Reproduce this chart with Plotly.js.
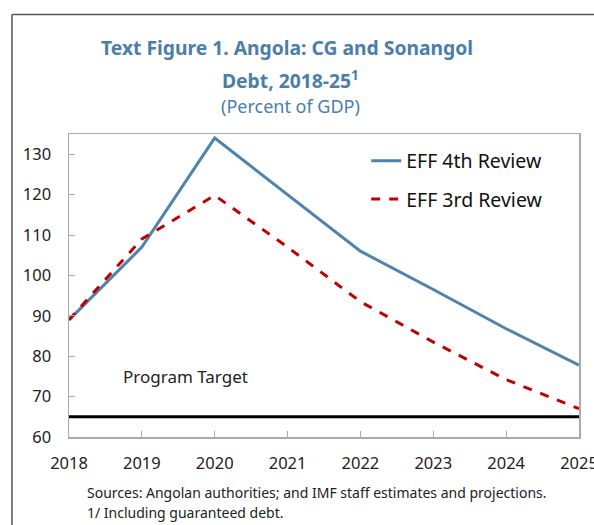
<!DOCTYPE html>
<html>
<head>
<meta charset="utf-8">
<script src="https://cdn.plot.ly/plotly-3.0.1.min.js"></script>
<style>html,body{margin:0;padding:0;background:#fff;}#chart{width:594px;height:525px;}</style>
</head>
<body>
<div id="chart"></div>
<script>
const years = [2018, 2019, 2020, 2021, 2022, 2023, 2024, 2025];
const eff4th = [89, 107, 134, 120, 106, 96.5, 86.8, 77.8];
const eff3rd = [89, 109, 119.8, 107, 93.5, 83.5, 74.2, 67];
const programTarget = 65;
const seriesNames = ['EFF 4th Review', 'EFF 3rd Review'];
const yTicks = [60, 70, 80, 90, 100, 110, 120, 130];

const FONT = 'Noto Sans, Open Sans, sans-serif';
const traces = [
  {x: years, y: eff4th, name: seriesNames[0], type: 'scatter', mode: 'lines',
   line: {color: '#4f83ad', width: 3}, legendgroup: 'a'},
  {x: years, y: eff3rd, name: seriesNames[1], type: 'scatter', mode: 'lines',
   line: {color: '#c00000', width: 3, dash: 'dash'}, legendgroup: 'b'},
  {x: [years[0], years[years.length - 1]], y: [programTarget, programTarget], type: 'scatter', mode: 'lines',
   line: {color: '#000', width: 3}, showlegend: false, hoverinfo: 'skip'}
];

const L = 69, R = 594 - 578.7, T = 133.5, B = 525 - 436.7;
const W = 594 - L - R, H = 525 - T - B;
const px = p => (p - L) / W;
const py = p => (525 - B - p) / H;

const layout = {
  width: 594, height: 525,
  margin: {l: L, r: R, t: T, b: B},
  paper_bgcolor: '#fff', plot_bgcolor: '#fff',
  font: {family: FONT, color: '#222', size: 16},
  showlegend: true,
  legend: {x: px(366), y: py(141), xanchor: 'left', yanchor: 'top', bgcolor: 'rgba(0,0,0,0)',
           font: {size: 19.5, color: '#111', family: FONT}, traceorder: 'grouped', tracegroupgap: 10},
  xaxis: {range: [2018, 2025], tickmode: 'array', tickvals: years, ticktext: years.map(String),
          ticks: 'inside', ticklen: 6, tickcolor: '#aaa', showgrid: false, zeroline: false,
          showline: true, linecolor: '#aaa', linewidth: 1.5, mirror: true,
          tickfont: {size: 16.5, color: '#222'}, ticklabelstandoff: 11, ticklabeloverflow: 'allow',
          fixedrange: true},
  yaxis: {range: [60, 135], tickmode: 'array', tickvals: yTicks,
          ticks: 'inside', ticklen: 6, tickcolor: '#aaa', showgrid: false, zeroline: false,
          showline: true, linecolor: '#aaa', linewidth: 1.5, mirror: true,
          tickfont: {size: 16.5, color: '#222'}, ticklabelstandoff: 13, fixedrange: true},
  shapes: [
    {type: 'line', xref: 'paper', yref: 'paper', x0: px(12), x1: px(12), y0: py(14), y1: py(530),
     line: {color: '#555', width: 1.5}},
    {type: 'line', xref: 'paper', yref: 'paper', x0: px(12), x1: px(600), y0: py(14), y1: py(14),
     line: {color: '#555', width: 1.5}}
  ],
  annotations: [
    {xref: 'paper', yref: 'paper', x: px(287), y: py(47), text: '<b>Text Figure 1. Angola: CG and Sonangol</b>',
     showarrow: false, font: {size: 19.3, color: '#4a7eab', family: FONT}, xanchor: 'center', yanchor: 'middle'},
    {xref: 'paper', yref: 'paper', x: px(290), y: py(79), text: '<b>Debt, 2018-25<sup>1</sup></b>',
     showarrow: false, font: {size: 19.3, color: '#4a7eab', family: FONT}, xanchor: 'center', yanchor: 'middle'},
    {xref: 'paper', yref: 'paper', x: px(290), y: py(105), text: '(Percent of GDP)',
     showarrow: false, font: {size: 18, color: '#4a7eab', family: FONT}, xanchor: 'center', yanchor: 'middle'},
    {xref: 'x', yref: 'y', x: 2019.6, y: 75, text: 'Program Target', showarrow: false,
     font: {size: 17, color: '#222', family: FONT}},
    {xref: 'paper', yref: 'paper', x: px(85), y: py(492), text: 'Sources: Angolan authorities; and IMF staff estimates and projections.',
     showarrow: false, xanchor: 'left', yanchor: 'middle', font: {size: 14, color: '#222', family: FONT}},
    {xref: 'paper', yref: 'paper', x: px(85), y: py(512), text: '1/ Including guaranteed debt.',
     showarrow: false, xanchor: 'left', yanchor: 'middle', font: {size: 14, color: '#222', family: FONT}}
  ]
};

Plotly.newPlot('chart', traces, layout, {displayModeBar: false, staticPlot: true});
</script>
</body>
</html>
